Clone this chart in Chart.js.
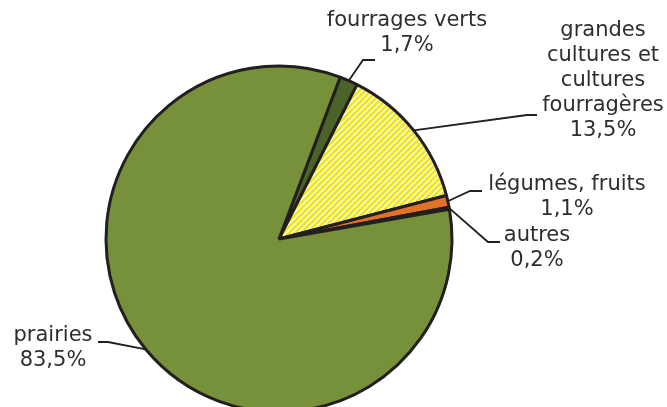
<!DOCTYPE html>
<html lang="fr">
<head>
<meta charset="utf-8">
<title>Répartition de la surface agricole</title>
<script src="https://cdn.jsdelivr.net/npm/chart.js@4/dist/chart.umd.min.js"></script>
<style>
    html, body { margin: 0; padding: 0; background: #fff; overflow: hidden; }
    #wrap { position: relative; width: 667px; height: 480px; }
</style>
</head>
<body>
<div id="wrap"><canvas id="pieChart"></canvas></div>
<script>
// Data
const categories = ['fourrages verts', 'grandes cultures et cultures fourragères', 'légumes, fruits', 'autres', 'prairies'];
const shares = [1.7, 13.5, 1.1, 0.2, 83.5];
const shareLabels = ['1,7%', '13,5%', '1,1%', '0,2%', '83,5%'];
const nameLines = [
    ['fourrages verts'],
    ['grandes', 'cultures et', 'cultures', 'fourragères'],
    ['légumes, fruits'],
    ['autres'],
    ['prairies']
];

const INK = '#231f20';
const TEXT = '#2e2e2e';

// Yellow / white hatch for the "grandes cultures" slice
const makeHatch = () => {
    const s = 6;
    const c = document.createElement('canvas');
    c.width = s;
    c.height = s;
    const g = c.getContext('2d');
    g.fillStyle = '#ffffff';
    g.fillRect(0, 0, s, s);
    g.strokeStyle = '#f1e61c';
    g.lineWidth = 3;
    g.beginPath();
    g.moveTo(-1, s + 1); g.lineTo(s + 1, -1);
    g.moveTo(-1, 1); g.lineTo(1, -1);
    g.moveTo(s - 1, s + 1); g.lineTo(s + 1, s - 1);
    g.stroke();
    return g.createPattern(c, 'repeat');
};

const sliceColors = ['#4b6228', makeHatch(), '#e2712a', INK, '#76913a'];

// Where each label sits: elbow of the leader line, its end, and the text centre
const labelLayout = [
    { elbow: [363, 60], end: [375, 60], x: 407, y: 21 },
    { elbow: [527, 115], end: [537, 115], x: 603, y: 31 },
    { elbow: [470, 191], end: [482, 191], x: 567, y: 185 },
    { elbow: [488, 242], end: [500, 242], x: 537, y: 236 },
    { elbow: [108, 342], end: [98, 342], x: 53, y: 336 }
];
const LINE_H = 25;

const leaderLabels = {
    id: 'leaderLabels',
    afterDatasetsDraw(chart) {
        const { ctx } = chart;
        const arcs = chart.getDatasetMeta(0).data;
        ctx.save();
        arcs.forEach((arc, i) => {
            const p = arc.getProps(['x', 'y', 'startAngle', 'endAngle', 'outerRadius'], true);
            const mid = (p.startAngle + p.endAngle) / 2;
            const sx = p.x + Math.cos(mid) * p.outerRadius;
            const sy = p.y + Math.sin(mid) * p.outerRadius;
            const lay = labelLayout[i];

            ctx.strokeStyle = INK;
            ctx.lineWidth = 1.8;
            ctx.beginPath();
            ctx.moveTo(sx, sy);
            ctx.lineTo(lay.elbow[0], lay.elbow[1]);
            ctx.lineTo(lay.end[0], lay.end[1]);
            ctx.stroke();

            const lines = [...nameLines[i], shareLabels[i]];
            ctx.fillStyle = TEXT;
            ctx.font = '21px "DejaVu Sans", Verdana, sans-serif';
            ctx.textAlign = 'center';
            ctx.textBaseline = 'middle';
            lines.forEach((t, k) => ctx.fillText(t, lay.x, lay.y + k * LINE_H));
        });
        ctx.restore();
    }
};

new Chart(document.getElementById('pieChart'), {
    type: 'pie',
    data: {
        labels: categories,
        datasets: [{
            data: shares,
            backgroundColor: sliceColors,
            borderColor: INK,
            borderWidth: 3
        }]
    },
    options: {
        responsive: true,
        maintainAspectRatio: false,
        animation: false,
        rotation: 20.7,
        radius: 173,
        layout: { padding: { left: 106, top: 66, right: 215, bottom: 68 } },
        plugins: {
            legend: { display: false },
            tooltip: { enabled: false }
        }
    },
    plugins: [leaderLabels]
});
</script>
</body>
</html>
